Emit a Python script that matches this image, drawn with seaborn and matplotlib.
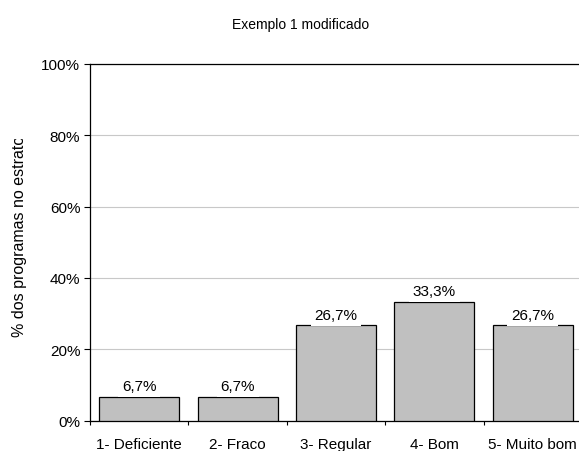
import matplotlib
matplotlib.use("Agg")
import matplotlib.pyplot as plt
import seaborn as sns
import pandas as pd
from matplotlib.ticker import FixedLocator, FuncFormatter
from matplotlib.transforms import Bbox, TransformedBbox

categories = ["1- Deficiente", "2- Fraco", "3- Regular", "4- Bom", "5- Muito bom"]
values = [6.7, 6.7, 26.7, 33.3, 26.7]
labels = ["6,7%", "6,7%", "26,7%", "33,3%", "26,7%"]
yticks = [0, 20, 40, 60, 80, 100]

sns.set_theme(style="white")
plt.rcParams["font.family"] = ["Liberation Sans", "DejaVu Sans"]
plt.rcParams["font.size"] = 11

df = pd.DataFrame({"cat": categories, "val": values})

fig = plt.figure(figsize=(5.79, 4.52), dpi=100)
ax = fig.add_axes([90 / 579, 1 - 421.5 / 452, 492 / 579, (421.5 - 65) / 452])

sns.barplot(data=df, x="cat", y="val", color="#C0C0C0", edgecolor="black",
            linewidth=0.9, saturation=1, width=0.815, ax=ax, zorder=3)

ax.set_ylim(0, 100)
ax.set_xlim(-0.5, 4.5)
ax.set_yticks(yticks)
ax.yaxis.set_major_formatter(FuncFormatter(lambda v, p: f"{int(v)}%"))
ax.yaxis.grid(True, color="#C8C8C8", linewidth=0.8, zorder=0)
ax.set_axisbelow(True)

ax.xaxis.set_minor_locator(FixedLocator([-0.5, 0.5, 1.5, 2.5, 3.5, 4.5]))
ax.tick_params(axis="x", which="major", length=0, pad=12, labelsize=11, colors="black")
ax.tick_params(axis="x", which="minor", length=3, width=0.8, color="black", bottom=True)
ax.tick_params(axis="y", which="major", length=4.5, width=0.8, color="black", left=True,
               labelsize=11, labelcolor="black", pad=2.5)

for s in ["left", "bottom", "top"]:
    ax.spines[s].set_visible(True)
    ax.spines[s].set_color("black")
    ax.spines[s].set_linewidth(0.9)
ax.spines["right"].set_visible(False)

for i, (v, lab) in enumerate(zip(values, labels)):
    ax.annotate(lab, xy=(i, v), xytext=(0, 2.6), textcoords="offset points",
                ha="center", va="bottom", fontsize=11, color="black", zorder=5,
                bbox=dict(boxstyle="square,pad=0.25", fc="white", ec="none"))

ax.set_xlabel("")
ax.set_ylabel("")
ylab = fig.text(20 / 579, 1 - 236 / 452, "% dos programas no estrato", rotation=90,
                ha="center", va="center", fontsize=11.5, color="black")
clip = TransformedBbox(Bbox([[0, 0], [1, 1 - 140 / 452]]), fig.transFigure)
ylab.set_clip_box(clip)
ylab.set_clip_on(True)

fig.text((231 + 370) / 2 / 579, 1 - 25 / 452, "Exemplo 1 modificado",
         ha="center", va="center", fontsize=10, color="black")

fig.savefig("out.png", dpi=100)
